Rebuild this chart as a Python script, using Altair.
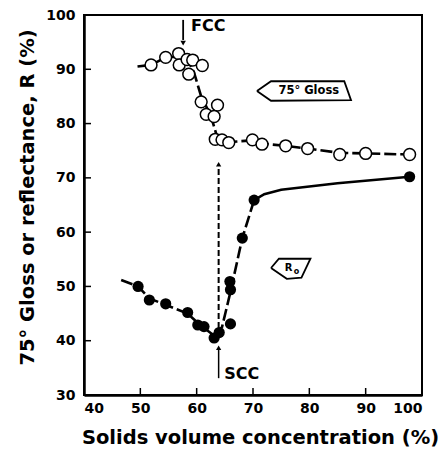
import altair as alt
import pandas as pd

# ---- data ----
gloss_x = [51.9, 54.5, 56.8, 56.9, 58.3, 59.3, 61.0, 58.6, 60.8, 63.7, 61.7, 63.1, 63.3, 64.5, 65.7, 69.9, 71.6, 75.8, 79.7, 85.4, 90.0, 97.8]
gloss_y = [90.8, 92.2, 92.9, 90.8, 91.8, 91.7, 90.7, 89.1, 84.0, 83.4, 81.7, 81.3, 77.1, 77.0, 76.5, 77.0, 76.2, 75.9, 75.4, 74.3, 74.5, 74.3]

ro_x = [49.6, 51.6, 54.5, 58.4, 60.2, 61.3, 63.1, 64.0, 66.0, 65.9, 66.0, 68.1, 70.2, 97.8]
ro_y = [50.0, 47.5, 46.8, 45.2, 42.9, 42.6, 40.5, 41.5, 43.1, 50.9, 49.4, 58.9, 65.9, 70.2]

gloss_curve_x = [49.5, 51.9, 54.5, 56.8, 58.5, 59.5, 60.8, 62.5, 63.5, 64.5, 65.7, 69.9, 71.6, 75.8, 79.7, 85.4, 90.0, 97.8]
gloss_curve_y = [90.5, 90.8, 92.2, 92.3, 91.5, 89.5, 85.0, 81.5, 78.0, 77.0, 76.6, 76.9, 76.3, 75.9, 75.4, 74.6, 74.5, 74.3]

ro_dash_x = [46.6, 49.6, 51.6, 54.5, 58.4, 60.5, 63.0, 64.5, 66.0, 68.1, 70.2]
ro_dash_y = [51.2, 50.0, 47.8, 46.6, 45.0, 43.0, 41.0, 42.5, 49.0, 58.9, 65.9]
ro_solid_x = [70.2, 72.0, 75.0, 85.0, 97.8]
ro_solid_y = [65.9, 67.0, 67.8, 69.0, 70.2]

x_ticks = [50, 60, 70, 80, 90]
y_ticks = [40, 50, 60, 70, 80, 90]
x_labels = [40, 50, 60, 70, 80, 90, 100]
y_labels = [30, 40, 50, 60, 70, 80, 90, 100]

# annotations (data coordinates)
fcc_x, fcc_y0, fcc_y1 = 57.6, 99.1, 95.4
scc_x = 63.9
scc_dash_y0, scc_dash_y1 = 40.7, 72.0
scc_arrow_y0, scc_arrow_y1 = 33.1, 38.3
gloss_box_x = [70.7, 73.2, 86.2, 87.4, 73.2, 70.7]
gloss_box_y = [86.0, 87.8, 87.8, 84.3, 84.2, 86.0]
ro_box_x = [73.2, 74.6, 80.2, 78.6, 76.0, 73.2]
ro_box_y = [53.4, 55.1, 55.1, 51.6, 51.4, 53.4]

FONT = "DejaVu Sans"
xs = alt.Scale(domain=[40, 100], nice=False, zero=False)
ys = alt.Scale(domain=[30, 100], nice=False, zero=False)

x_axis = alt.Axis(values=x_labels, ticks=False, grid=False,
                  title="Solids volume concentration (%)", labelPadding=6,
                  titleX=176, titleY=48, titleBaseline="alphabetic", titleAlign="center")
y_axis = alt.Axis(values=y_labels, ticks=False, grid=False,
                  title="75° Gloss or reflectance, R (%)", labelPadding=9,
                  titleX=-51, titleY=182, titleBaseline="alphabetic", titleAlign="center", titleAngle=-90)

def X():
    return alt.X("x:Q", scale=xs, axis=x_axis)

def Y():
    return alt.Y("y:Q", scale=ys, axis=y_axis)

gloss_df = pd.DataFrame({"x": gloss_x, "y": gloss_y})
ro_df = pd.DataFrame({"x": ro_x, "y": ro_y})

base_line = alt.Chart(pd.DataFrame({"x": gloss_curve_x, "y": gloss_curve_y})).mark_line(
    color="black", strokeWidth=2.6, strokeDash=[12, 4]).encode(x=X(), y=Y())

ro_dash = alt.Chart(pd.DataFrame({"x": ro_dash_x, "y": ro_dash_y})).mark_line(
    color="black", strokeWidth=2.6, strokeDash=[12, 4]).encode(x=X(), y=Y())
ro_solid = alt.Chart(pd.DataFrame({"x": ro_solid_x, "y": ro_solid_y})).mark_line(
    color="black", strokeWidth=2.6).encode(x=X(), y=Y())

gloss_pts = alt.Chart(gloss_df).mark_point(shape="circle", size=140, filled=True, fill="white",
                                           stroke="black", strokeWidth=1.5, opacity=1).encode(x=X(), y=Y())
ro_pts = alt.Chart(ro_df).mark_point(shape="circle", size=125, filled=True, color="black",
                                     opacity=1).encode(x=X(), y=Y())

# inward ticks
xt = alt.Chart(pd.DataFrame({"x": x_ticks})).mark_rule(color="black", strokeWidth=1.5).encode(
    x=X(), y=alt.value(373), y2=alt.value(380))
yt = alt.Chart(pd.DataFrame({"y": y_ticks})).mark_rule(color="black", strokeWidth=1.5).encode(
    y=Y(), x=alt.value(0), x2=alt.value(7))

# FCC arrow
fcc_rule = alt.Chart(pd.DataFrame({"x": [fcc_x], "y": [fcc_y0], "y2": [fcc_y1]})).mark_rule(
    color="black", strokeWidth=1.8).encode(x=X(), y=Y(), y2="y2:Q")
fcc_head = alt.Chart(pd.DataFrame({"x": [fcc_x], "y": [fcc_y1 - 0.6]})).mark_point(
    shape="triangle-down", size=30, filled=True, color="black", opacity=1).encode(x=X(), y=Y())
fcc_text = alt.Chart(pd.DataFrame({"x": [fcc_x + 1.4], "y": [98.0], "t": ["FCC"]})).mark_text(
    font=FONT, fontWeight="bold", fontSize=16, align="left", baseline="middle", color="black").encode(
    x=X(), y=Y(), text="t:N")

# SCC arrows
scc_dash = alt.Chart(pd.DataFrame({"x": [scc_x], "y": [scc_dash_y0], "y2": [scc_dash_y1]})).mark_rule(
    color="black", strokeWidth=2, strokeDash=[6, 3]).encode(x=X(), y=Y(), y2="y2:Q")
scc_rule = alt.Chart(pd.DataFrame({"x": [scc_x], "y": [scc_arrow_y0], "y2": [scc_arrow_y1]})).mark_rule(
    color="black", strokeWidth=1.5).encode(x=X(), y=Y(), y2="y2:Q")
scc_heads = alt.Chart(pd.DataFrame({"x": [scc_x, scc_x], "y": [scc_dash_y1 + 0.5, scc_arrow_y1 + 0.4]})).mark_point(
    shape="triangle-up", size=28, filled=True, color="black", opacity=1).encode(x=X(), y=Y())
scc_text = alt.Chart(pd.DataFrame({"x": [scc_x + 1.0], "y": [33.8], "t": ["SCC"]})).mark_text(
    font=FONT, fontWeight="bold", fontSize=16, align="left", baseline="middle", color="black").encode(
    x=X(), y=Y(), text="t:N")

# label boxes
gb = alt.Chart(pd.DataFrame({"x": gloss_box_x, "y": gloss_box_y, "o": list(range(len(gloss_box_x)))})).mark_line(
    color="black", strokeWidth=1.8).encode(x=X(), y=Y(), order="o:Q")
gt = alt.Chart(pd.DataFrame({"x": [79.9], "y": [86.0], "t": ["75° Gloss"]})).mark_text(
    font=FONT, fontWeight="bold", fontSize=11.5, align="center", baseline="middle", color="black").encode(
    x=X(), y=Y(), text="t:N")
rb = alt.Chart(pd.DataFrame({"x": ro_box_x, "y": ro_box_y, "o": list(range(len(ro_box_x)))})).mark_line(
    color="black", strokeWidth=1.8).encode(x=X(), y=Y(), order="o:Q")
rt = alt.Chart(pd.DataFrame({"x": [76.3], "y": [53.4], "t": ["R"]})).mark_text(
    font=FONT, fontWeight="bold", fontSize=10, align="center", baseline="middle", color="black").encode(
    x=X(), y=Y(), text="t:N")
rt2 = alt.Chart(pd.DataFrame({"x": [77.7], "y": [52.7], "t": ["o"]})).mark_text(
    font=FONT, fontWeight="bold", fontSize=8, align="center", baseline="middle", color="black").encode(
    x=X(), y=Y(), text="t:N")

chart = alt.layer(
    base_line, ro_dash, ro_solid, gloss_pts, ro_pts, xt, yt,
    fcc_rule, fcc_head, fcc_text, scc_dash, scc_rule, scc_heads, scc_text,
    gb, gt, rb, rt, rt2
).properties(
    width=338, height=380, autosize="none",
    padding={"left": 84, "top": 15, "right": 18, "bottom": 59},
    background="white"
).configure_view(
    stroke="black", strokeWidth=2
).configure_axis(
    domainColor="black", domainWidth=2.5,
    labelFont=FONT, labelFontWeight="bold", labelFontSize=14, labelColor="black",
    titleFont=FONT, titleFontWeight="bold", titleFontSize=19.5, titleColor="black"
)

chart.save("out.html", embed_options={"renderer": "svg", "actions": False})
